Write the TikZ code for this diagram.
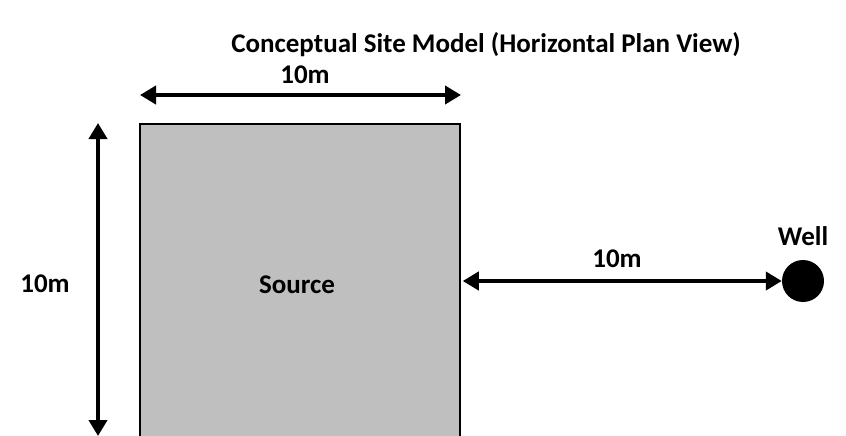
\documentclass[tikz,border=0pt]{standalone}
\usepackage{fontspec}
\setmainfont{Carlito}
\usetikzlibrary{arrows.meta,positioning}

\tikzset{
  txt/.style={font=\bfseries\fontsize{27}{31}\selectfont, inner sep=0pt},
  dimline/.style={{Triangle[length=16pt,width=18pt]}-{Triangle[length=16pt,width=18pt]}, line width=4.5pt},
}

\begin{document}
\begin{tikzpicture}[x=1pt,y=-1pt]
        % Page size (pixels of the plan)
        \useasboundingbox (0,0) rectangle (846,436);
        \clip (0,0) rectangle (846,436);

        % Title
        \node[txt] (title) at (486,45) {Conceptual Site Model (Horizontal Plan View)};

        % Source area
        \node[draw, line width=2.5pt, fill=black!25, minimum width=320pt, minimum height=318pt, inner sep=0pt] (source) at (300,283) {};
        \node[txt] (srclabel) at (297,285) {Source};

        % Well
        \node[circle, fill=black, minimum size=42pt, inner sep=0pt] (well) at (803,281) {};
        \node[txt, above=14pt of well] (welllabel) {Well};

        % Dimension along the top
        \coordinate (topA) at (140,95);
        \coordinate (topB) at (461,95);
        \draw[dimline] (topA) -- (topB);
        \node[txt] (toplabel) at (305,75) {10m};

        % Dimension along the left side
        \coordinate (sideA) at (98,123);
        \coordinate (sideB) at (98,436);
        \draw[dimline] (sideA) -- (sideB);
        \node[txt] (sidelabel) at (45,284) {10m};

        % Distance from source to well
        \coordinate (gapA) at (source.east |- well.west);
        \draw[dimline] ([xshift=1.5pt]gapA) -- (well.west);
        \node[txt] (gaplabel) at (617,259) {10m};
\end{tikzpicture}
\end{document}
